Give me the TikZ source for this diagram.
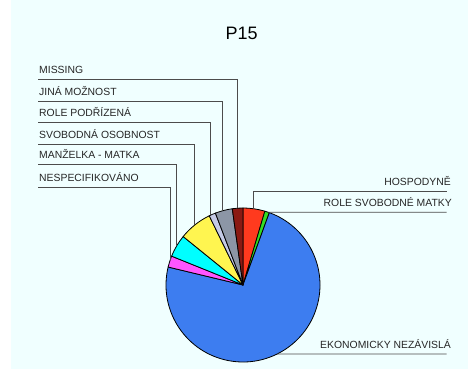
\documentclass[tikz,border=0pt]{standalone}
\usepackage{fontspec}
\setmainfont{Liberation Sans}
\usepackage{tikz}

\definecolor{chartbg}{HTML}{F0FFFF}
\definecolor{hospred}{HTML}{FF3A1E}
\definecolor{matkagreen}{HTML}{33DD22}
\definecolor{ekonblue}{HTML}{3D7DF0}
\definecolor{nespink}{HTML}{FF55FF}
\definecolor{manzcyan}{HTML}{00FFFF}
\definecolor{svobyellow}{HTML}{FFF550}
\definecolor{podrlav}{HTML}{C4CAE6}
\definecolor{jinagray}{HTML}{8C96A6}
\definecolor{missred}{HTML}{8B1A12}

\begin{document}
\begin{tikzpicture}[x=1pt, y=1pt,
		every node/.style={font=\fontsize{10.4}{12}\selectfont, text=black!85},
		slice/.style={draw=black, line width=0.8pt, line join=round},
		leader/.style={draw=black!70, line width=0.9pt},
		lbl/.style={anchor=south west, inner xsep=1pt, inner ysep=5.5pt},
		rlbl/.style={anchor=south east, inner xsep=0pt, inner ysep=5.5pt}]
		\useasboundingbox (0,0) rectangle (468,369);
		\fill[chartbg] (11,0) rectangle (468,369);
	
		\node at (241.7, 335.7) (title) [font=\fontsize{18}{20}\selectfont, text=black] {P15};
	
		\begin{scope}[shift={(243,84)}]
			\filldraw[slice, fill=hospred] (0,0) -- (73.5:77) arc[start angle=73.5, end angle=90, radius=77] -- cycle;
			\filldraw[slice, fill=matkagreen] (0,0) -- (70:77) arc[start angle=70, end angle=73.5, radius=77] -- cycle;
			\filldraw[slice, fill=ekonblue] (0,0) -- (-193.5:77) arc[start angle=-193.5, end angle=70, radius=77] -- cycle;
			\filldraw[slice, fill=nespink] (0,0) -- (158:77) arc[start angle=158, end angle=166.5, radius=77] -- cycle;
			\filldraw[slice, fill=manzcyan] (0,0) -- (141:77) arc[start angle=141, end angle=158, radius=77] -- cycle;
			\filldraw[slice, fill=svobyellow] (0,0) -- (116:77) arc[start angle=116, end angle=141, radius=77] -- cycle;
			\filldraw[slice, fill=podrlav] (0,0) -- (111:77) arc[start angle=111, end angle=116, radius=77] -- cycle;
			\filldraw[slice, fill=jinagray] (0,0) -- (98:77) arc[start angle=98, end angle=111, radius=77] -- cycle;
			\filldraw[slice, fill=missred] (0,0) -- (90:77) arc[start angle=90, end angle=98, radius=77] -- cycle;
		
			\coordinate (p-missing) at (94.2:77);
			\coordinate (p-jina) at (105.3:77);
			\coordinate (p-podr) at (114.8:77);
			\coordinate (p-svob) at (129.2:77);
			\coordinate (p-manz) at (149.4:77);
			\coordinate (p-nesp) at (160.7:77);
			\coordinate (p-hosp) at (82.3:77);
			\coordinate (p-matky) at (70.8:77);
			\coordinate (p-ekon) at (-63.6:77);
		\end{scope}
	
		\node at (38, 289.7) (missing) [lbl] {MISSING};
		\draw[leader] (missing.south west) -| (p-missing);
	
		\node at (38, 267.7) (jina) [lbl] {JINÁ MOŽNOST};
		\draw[leader] (jina.south west) -| (p-jina);
	
		\node at (38, 246.3) (podr) [lbl] {ROLE PODŘÍZENÁ};
		\draw[leader] (podr.south west) -| (p-podr);
	
		\node at (38, 225) (svob) [lbl] {SVOBODNÁ OSOBNOST};
		\draw[leader] (svob.south west) -| (p-svob);
	
		\node at (38, 204.3) (manz) [lbl] {MANŽELKA - MATKA};
		\draw[leader] (manz.south west) -| (p-manz);
	
		\node at (38, 181.3) (nesp) [lbl] {NESPECIFIKOVÁNO};
		\draw[leader] (nesp.south west) -| (p-nesp);
	
		\node at (451, 177.7) (hosp) [rlbl] {HOSPODYNĚ};
		\coordinate (hosp-end) at (446.7, 177.7);
		\draw[leader] (p-hosp) |- (hosp-end);
	
		\node at (452, 156.7) (matky) [rlbl] {ROLE SVOBODNÉ MATKY};
		\coordinate (matky-end) at (446.7, 156.7);
		\draw[leader] (p-matky) -- (matky-end);
	
		\node at (451, 15) (ekon) [rlbl] {EKONOMICKY NEZÁVISLÁ};
		\coordinate (ekon-end) at (446.7, 15);
		\draw[leader] (p-ekon) -- (ekon-end);
	\end{tikzpicture}
\end{document}
